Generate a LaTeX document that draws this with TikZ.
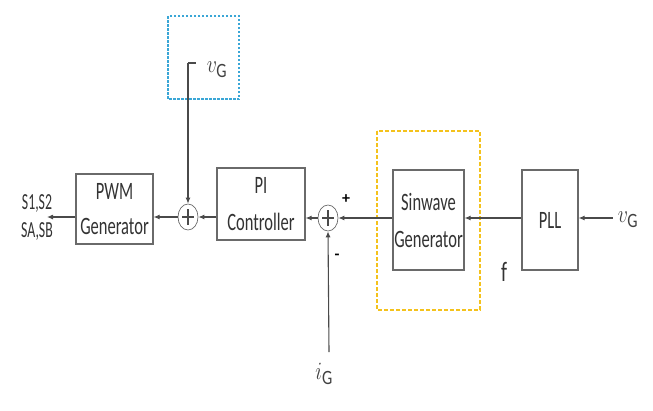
\documentclass[tikz,border=0pt]{standalone}
\usepackage{fontspec}
\setmainfont{Carlito}
\usetikzlibrary{arrows.meta,shapes.geometric}
\definecolor{lineg}{HTML}{4A4A4A}
\definecolor{boxg}{HTML}{6A6A6A}
\definecolor{bluedash}{HTML}{3AA6D6}
\definecolor{yeldash}{HTML}{F4C21C}
\tikzset{
  blockbox/.style={draw=boxg, line width=1.1pt, fill=white, align=center, inner sep=0pt,
    font=\fontsize{25}{30}\selectfont, text=black!80},
  sumnode/.style={draw=boxg, ellipse, minimum width=20pt, minimum height=26pt, inner sep=0pt, line width=0.7pt},
  conn/.style={draw=lineg, line width=1.1pt},
  arr/.style={conn, -{Latex[length=6pt,width=5pt]}},
  lbl/.style={font=\fontsize{23}{24}\selectfont, text=black!80, inner sep=0pt},
  mathlbl/.style={font=\fontsize{29}{31}\selectfont, text=black!75, inner sep=0pt}
}
\begin{document}
\begin{tikzpicture}[x=1pt,y=-1pt]
\useasboundingbox (0,0) rectangle (653,410);
% dashed frames
\draw[bluedash, line width=2.6pt, dash pattern=on 2.5pt off 1.5pt] (168,16) rectangle (239,99);
\draw[yeldash, line width=2.8pt, dash pattern=on 4pt off 2pt] (377,131) rectangle (480,310);
% blocks
\node[blockbox, minimum width=77pt, minimum height=70pt] (pwm) at (114.5,209) {\scalebox{0.66}[1]{PWM}\\[5pt]\scalebox{0.66}[1]{Generator}};
\node[blockbox, minimum width=88pt, minimum height=72pt] (pi) at (261,204) {\scalebox{0.66}[1]{PI}\\[7pt]\scalebox{0.66}[1]{Controller}};
\node[blockbox, minimum width=71pt, minimum height=100pt] (sin) at (428.5,220) {\scalebox{0.66}[1]{Sinwave}\\[7pt]\scalebox{0.66}[1]{Generator}};
\node[blockbox, minimum width=56pt, minimum height=100pt] (pll) at (550,220) {\scalebox{0.66}[1]{PLL}};
% summing junctions
\node[sumnode] (s1) at (188,217) {};
\node[sumnode] (s2) at (328,218) {};
\draw[lineg, line width=2.4pt] (s1.center) ++(-6,0) -- ++(12,0) (s1.center) ++(0,-8) -- ++(0,16);
\draw[lineg, line width=2.4pt] (s2.center) ++(-6,0) -- ++(12,0) (s2.center) ++(0,-8) -- ++(0,16);
% labels
\node[mathlbl] (vg1) at (217,70) {\scalebox{0.8}[1]{$v_{\mathrm{G}}$}};
\node[mathlbl] (vg2) at (628,220) {\scalebox{0.8}[1]{$v_{\mathrm{G}}$}};
\node[mathlbl] (ig) at (324,374) {\scalebox{0.8}[1]{$i_{\mathrm{G}}$}};
\node[lbl] (out1) at (37,204) {\scalebox{0.6}[1]{S1,S2}};
\node[lbl] (out2) at (37,232) {\scalebox{0.6}[1]{SA,SB}};
\node[lbl, font=\fontsize{28}{30}\selectfont] (flbl) at (504,272) {\scalebox{0.7}[1]{f}};
\node[font=\fontsize{16}{16}\selectfont\bfseries, inner sep=0pt] (plus) at (346,199) {+};
\node[font=\fontsize{16}{16}\selectfont\bfseries, inner sep=0pt] (minus) at (337,257) {-};
\coordinate (vgtick) at (188,63);
\coordinate (outend) at (47,217);
\coordinate (igend) at (329,352);
% connectors
\draw[conn] (vgtick) -- ++(8,0);
\draw[arr] (vgtick) -- (s1.north);
\draw[arr] (s1.west) -- (pwm.east |- s1.west);
\draw[arr] (pwm.west |- s1.west) -- (outend);
\draw[arr] (pi.west |- s1.east) -- (s1.east);
\draw[arr] (s2.west) -- (pi.east |- s2.west);
\draw[arr] (sin.west |- s2.east) -- (s2.east);
\draw[arr] (pll.west |- s2.east) -- (sin.east |- s2.east);
\draw[arr] (vg2.west |- s2.east) ++(-5,0) -- (pll.east |- s2.east);
\draw[arr] (igend) -- (s2.south);
\end{tikzpicture}
\end{document}
